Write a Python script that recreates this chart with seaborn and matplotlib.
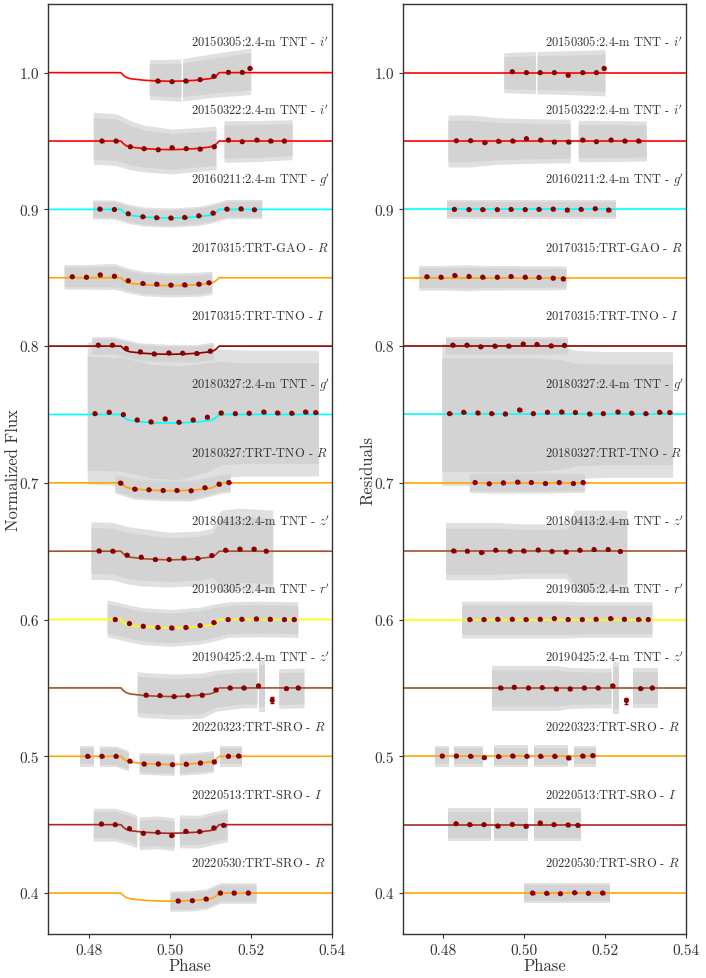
import numpy as np
import matplotlib
matplotlib.use("Agg")
import matplotlib.pyplot as plt
import seaborn as sns

nan = np.nan

# one entry per light curve, top to bottom
labels = [r"20150305:2.4-m TNT - $i'$", r"20150322:2.4-m TNT - $i'$",
          r"20160211:2.4-m TNT - $g'$", r"20170315:TRT-GAO - $R$",
          r"20170315:TRT-TNO - $I$", r"20180327:2.4-m TNT - $g'$",
          r"20180327:TRT-TNO - $R$", r"20180413:2.4-m TNT - $z'$",
          r"20190305:2.4-m TNT - $r'$", r"20190425:2.4-m TNT - $z'$",
          r"20220323:TRT-SRO - $R$", r"20220513:TRT-SRO - $I$",
          r"20220530:TRT-SRO - $R$"]
offsets = [1.0, 0.95, 0.9, 0.85, 0.8, 0.75, 0.7, 0.65, 0.6, 0.55, 0.5, 0.45, 0.4]
colors = ["red", "red", "cyan", "orange", "darkred", "cyan", "orange",
          "sienna", "yellow", "sienna", "orange", "brown", "orange"]
depths = [0.0063, 0.0063, 0.0063, 0.0058, 0.006, 0.0063, 0.0058,
          0.0063, 0.006, 0.0063, 0.006, 0.0063, 0.006]

# transit model shape (fraction of depth)
model_phase = [0.46, 0.4879, 0.4885, 0.4892, 0.4902, 0.4936, 0.4971, 0.5,
               0.5029, 0.5064, 0.5098, 0.5108, 0.5115, 0.5121, 0.55]
model_shape = [0, 0, 0.3, 0.55, 0.7, 0.88, 0.97, 1.0,
               0.97, 0.88, 0.7, 0.55, 0.3, 0, 0]

# binned points
bin_phase = [
    [0.4970, 0.5005, 0.5039, 0.5074, 0.5108, 0.5144, 0.5178, 0.5197],
    [0.4832, 0.4867, 0.4902, 0.4936, 0.4971, 0.5005, 0.5040, 0.5074, 0.5109, 0.5144, 0.5178, 0.5214, 0.5248, 0.5282],
    [0.4827, 0.4863, 0.4897, 0.4933, 0.4967, 0.5002, 0.5036, 0.5071, 0.5106, 0.5140, 0.5175, 0.5208],
    [0.4759, 0.4794, 0.4828, 0.4863, 0.4897, 0.4933, 0.4967, 0.5002, 0.5036, 0.5071, 0.5096],
    [0.4823, 0.4858, 0.4892, 0.4927, 0.4961, 0.4997, 0.5031, 0.5066, 0.5099],
    [0.4815, 0.4850, 0.4885, 0.4919, 0.4953, 0.4988, 0.5022, 0.5057, 0.5092, 0.5126, 0.5161, 0.5195, 0.5231, 0.5265, 0.5300, 0.5334, 0.5359],
    [0.4878, 0.4913, 0.4948, 0.4983, 0.5017, 0.5052, 0.5086, 0.5121, 0.5145],
    [0.4825, 0.4859, 0.4894, 0.4929, 0.4964, 0.4998, 0.5034, 0.5068, 0.5103, 0.5137, 0.5172, 0.5207, 0.5237],
    [0.4865, 0.4900, 0.4934, 0.4970, 0.5004, 0.5039, 0.5074, 0.5108, 0.5143, 0.5177, 0.5213, 0.5247, 0.5282, 0.5306],
    [0.4941, 0.4975, 0.5010, 0.5044, 0.5079, 0.5113, 0.5148, 0.5182, 0.5218, 0.5252, 0.5287, 0.5316],
    [0.4797, 0.4832, 0.4867, 0.4901, 0.4936, 0.4971, 0.5006, 0.5040, 0.5075, 0.5109, 0.5144, 0.5169],
    [0.4831, 0.4865, 0.4900, 0.4934, 0.4970, 0.5004, 0.5039, 0.5073, 0.5108, 0.5132],
    [0.5020, 0.5055, 0.5089, 0.5124, 0.5158, 0.5193],
]
bin_flux = [
    [0.9939, 0.9934, 0.9939, 0.9949, 0.9973, 1.0002, 1.0002, 1.0031],
    [0.9500, 0.9500, 0.9458, 0.9444, 0.9436, 0.9451, 0.9444, 0.9441, 0.9458, 0.9507, 0.9495, 0.9507, 0.9500, 0.9500],
    [0.9002, 0.8999, 0.8968, 0.8946, 0.8939, 0.8937, 0.8941, 0.8953, 0.8973, 0.9002, 0.9004, 0.8997],
    [0.8507, 0.8504, 0.8521, 0.8511, 0.8478, 0.8458, 0.8453, 0.8446, 0.8448, 0.8453, 0.8463],
    [0.8007, 0.8007, 0.7983, 0.7958, 0.7943, 0.7950, 0.7948, 0.7946, 0.7963],
    [0.7506, 0.7516, 0.7499, 0.7460, 0.7446, 0.7468, 0.7443, 0.7460, 0.7480, 0.7511, 0.7506, 0.7509, 0.7518, 0.7511, 0.7509, 0.7518, 0.7514],
    [0.6998, 0.6954, 0.6949, 0.6944, 0.6944, 0.6942, 0.6964, 0.6990, 0.7002],
    [0.6502, 0.6500, 0.6471, 0.6456, 0.6439, 0.6439, 0.6449, 0.6447, 0.6468, 0.6507, 0.6515, 0.6515, 0.6500],
    [0.6000, 0.5971, 0.5951, 0.5942, 0.5939, 0.5942, 0.5956, 0.5978, 0.6000, 0.6002, 0.6005, 0.6002, 0.6000, 0.6000],
    [0.5447, 0.5444, 0.5437, 0.5444, 0.5447, 0.5485, 0.5500, 0.5500, 0.5515, 0.5410, 0.5495, 0.5500],
    [0.5000, 0.5000, 0.5000, 0.4964, 0.4944, 0.4944, 0.4939, 0.4942, 0.4951, 0.4959, 0.5000, 0.5002],
    [0.4505, 0.4500, 0.4471, 0.4437, 0.4444, 0.4420, 0.4451, 0.4449, 0.4476, 0.4495],
    [0.3942, 0.3944, 0.3956, 0.4000, 0.4000, 0.4000],
]
bin_resid = [
    [1.0007, 1.0000, 1.0000, 1.0000, 0.9981, 1.0000, 1.0000, 1.0031],
    [0.9502, 0.9502, 0.9488, 0.9498, 0.9500, 0.9517, 0.9507, 0.9493, 0.9493, 0.9507, 0.9495, 0.9507, 0.9500, 0.9500],
    [0.9000, 0.8998, 0.8998, 0.8998, 0.9000, 0.8998, 0.9000, 0.9002, 0.8995, 0.9000, 0.9005, 0.8995],
    [0.8507, 0.8504, 0.8516, 0.8509, 0.8504, 0.8504, 0.8509, 0.8504, 0.8502, 0.8497, 0.8492],
    [0.8007, 0.8007, 0.7995, 0.8000, 0.8000, 0.8015, 0.8012, 0.8002, 0.8005],
    [0.7506, 0.7516, 0.7511, 0.7506, 0.7504, 0.7533, 0.7506, 0.7516, 0.7518, 0.7514, 0.7504, 0.7506, 0.7518, 0.7509, 0.7506, 0.7516, 0.7514],
    [0.7002, 0.6993, 0.7000, 0.7005, 0.7002, 0.6995, 0.7002, 0.6995, 0.7002],
    [0.6502, 0.6500, 0.6490, 0.6507, 0.6500, 0.6502, 0.6509, 0.6498, 0.6495, 0.6507, 0.6512, 0.6512, 0.6498],
    [0.6000, 0.6000, 0.6002, 0.6002, 0.6000, 0.6002, 0.6007, 0.6000, 0.6000, 0.6002, 0.6007, 0.6002, 0.6000, 0.6000],
    [0.5500, 0.5505, 0.5500, 0.5502, 0.5493, 0.5493, 0.5500, 0.5500, 0.5515, 0.5408, 0.5495, 0.5500],
    [0.5002, 0.5002, 0.5000, 0.4990, 0.4998, 0.5002, 0.5000, 0.5000, 0.5000, 0.4988, 0.5002, 0.5005],
    [0.4507, 0.4500, 0.4500, 0.4490, 0.4502, 0.4488, 0.4512, 0.4500, 0.4498, 0.4495],
    [0.4000, 0.3998, 0.3995, 0.4002, 0.3998, 0.4000],
]
bin_err = 0.0005
odd_point = (9, 9, 0.0022)   # curve, index, error of the deviant bin

# spread of the unbinned data (gray), nan marks a gap
gray_phase = [
    [0.4949, 0.5027, nan, 0.5031, 0.5108, 0.5199],
    [0.4811, 0.4867, 0.4902, 0.4936, 0.5005, 0.5074, 0.5113, nan, 0.5133, 0.5214, 0.5301],
    [0.4809, 0.4863, 0.4897, 0.4933, 0.5002, 0.5071, 0.5106, 0.5140, 0.5226],
    [0.4739, 0.4794, 0.4863, 0.4897, 0.4933, 0.5002, 0.5071, 0.5103],
    [0.4807, 0.4858, 0.4892, 0.4927, 0.4997, 0.5066, 0.5107],
    [0.4796, 0.4885, 0.4953, 0.5022, 0.5092, 0.5126, 0.5195, 0.5265, 0.5366],
    [0.4864, 0.4913, 0.4983, 0.5052, 0.5121, 0.5148],
    [0.4805, 0.4859, 0.4894, 0.4929, 0.4998, 0.5068, 0.5103, 0.5125, 0.5172, 0.5253],
    [0.4845, 0.4900, 0.4934, 0.5004, 0.5074, 0.5108, 0.5143, 0.5213, 0.5315],
    [0.4919, 0.4941, 0.5010, 0.5079, 0.5113, 0.5182, 0.5214, nan, 0.5219, 0.5234, nan, 0.5268, 0.5330],
    [0.4778, 0.4813, nan, 0.4826, 0.4867, 0.4897, nan, 0.4924, 0.4971, 0.5010, nan,
     0.5023, 0.5075, 0.5107, nan, 0.5123, 0.5177],
    [0.4811, 0.4865, 0.4900, 0.4918, nan, 0.4924, 0.4970, 0.5010, nan, 0.5023, 0.5073, 0.5108, 0.5141],
    [0.5000, 0.5020, 0.5055, 0.5089, 0.5124, 0.5158, 0.5212],
]
gray_mid = [
    [0.9950, 0.9945, nan, 0.9948, 0.9980, 1.0010],
    [0.9520, 0.9510, 0.9470, 0.9445, 0.9423, 0.9440, 0.9450, nan, 0.9496, 0.9500, 0.9510],
    [0.9000, 0.8999, 0.8968, 0.8948, 0.8940, 0.8953, 0.8973, 0.9003, 0.9003],
    [0.8507, 0.8506, 0.8510, 0.8480, 0.8458, 0.8447, 0.8453, 0.8462],
    [0.8003, 0.8005, 0.7983, 0.7958, 0.7948, 0.7946, 0.7965],
    [0.7510, 0.7500, 0.7450, 0.7440, 0.7480, 0.7510, 0.7510, 0.7510, 0.7510],
    [0.6995, 0.6955, 0.6944, 0.6942, 0.6990, 0.7002],
    [0.6505, 0.6500, 0.6471, 0.6456, 0.6439, 0.6447, 0.6468, 0.6500, 0.6515, 0.6500],
    [0.6010, 0.5971, 0.5951, 0.5939, 0.5956, 0.5978, 0.6000, 0.6005, 0.6000],
    [0.5455, 0.5447, 0.5437, 0.5444, 0.5480, 0.5500, 0.5500, nan, 0.5515, 0.5515, nan, 0.5495, 0.5500],
    [0.5000, 0.5000, nan, 0.5000, 0.5000, 0.4968, nan, 0.4948, 0.4944, 0.4940, nan,
     0.4942, 0.4951, 0.4962, nan, 0.5000, 0.5000],
    [0.4500, 0.4500, 0.4471, 0.4450, nan, 0.4437, 0.4444, 0.4430, nan, 0.4451, 0.4449, 0.4476, 0.4495],
    [0.3940, 0.3942, 0.3944, 0.3956, 0.4000, 0.4000, 0.4000],
]
gray_half = [
    [0.0145, 0.0155, nan, 0.0155, 0.0160, 0.0170],
    [0.019, 0.019, 0.018, 0.017, 0.0164, 0.016, 0.016, nan, 0.0152, 0.015, 0.0146],
    [0.007, 0.007, 0.007, 0.007, 0.007, 0.007, 0.007, 0.007, 0.007],
    [0.009, 0.009, 0.0095, 0.009, 0.009, 0.0088, 0.0088, 0.0085],
    [0.0065, 0.0065, 0.0065, 0.0065, 0.0065, 0.0065, 0.0065],
    [0.052, 0.052, 0.052, 0.052, 0.050, 0.047, 0.046, 0.046, 0.046],
    [0.007, 0.0075, 0.0075, 0.0075, 0.007, 0.007],
    [0.021, 0.021, 0.021, 0.021, 0.020, 0.020, 0.020, 0.030, 0.030, 0.030],
    [0.0135, 0.0135, 0.0135, 0.0135, 0.0135, 0.0135, 0.013, 0.013, 0.013],
    [0.0165, 0.0165, 0.0165, 0.0165, 0.015, 0.0145, 0.0145, nan, 0.019, 0.019, nan, 0.0145, 0.0145],
    [0.0075, 0.0075, nan, 0.0075, 0.0075, 0.0075, nan, 0.008, 0.008, 0.008, nan,
     0.008, 0.008, 0.008, nan, 0.0075, 0.0075],
    [0.012, 0.012, 0.012, 0.012, nan, 0.012, 0.012, 0.012, nan, 0.012, 0.012, 0.012, 0.012],
    [0.0075, 0.0075, 0.0075, 0.0075, 0.0075, 0.0075, 0.0075],
]


def split_nan(x, *ys):
    x = np.asarray(x, dtype=float)
    ys = [np.asarray(y, dtype=float) for y in ys]
    cuts = np.where(np.isnan(x))[0]
    start = 0
    for c in list(cuts) + [len(x)]:
        if c > start:
            yield (x[start:c],) + tuple(y[start:c] for y in ys)
        start = c + 1


sns.set_theme(style="ticks", context="notebook")
plt.rcParams["font.family"] = ["serif"]
plt.rcParams["font.serif"] = ["cmr10", "DejaVu Serif"]
plt.rcParams["mathtext.fontset"] = "cm"
plt.rcParams["axes.formatter.use_mathtext"] = True
plt.rcParams["axes.edgecolor"] = ".2"
plt.rcParams["axes.linewidth"] = 1.0

fig = plt.figure(figsize=(7.06, 9.79), dpi=100)
ax_l = fig.add_axes([0.0684, 0.0449, 0.4023, 0.9497])
ax_r = fig.add_axes([0.5708, 0.0449, 0.4013, 0.9497])

for i, off in enumerate(offsets):
    # raw data spread: soft outer edge, solid core
    for gx, gm, gh in split_nan(gray_phase[i], gray_mid[i], gray_half[i]):
        for frac, alpha in ((1.0, 0.7), (0.8, 1.0)):
            ax_l.fill_between(gx, gm - frac * gh, gm + frac * gh, color="lightgray",
                              alpha=alpha, lw=0, zorder=1)
            ax_r.fill_between(gx, off - frac * gh, off + frac * gh, color="lightgray",
                              alpha=alpha, lw=0, zorder=1)

    # model / zero line
    model = off - depths[i] * np.array(model_shape)
    sns.lineplot(x=model_phase, y=model, ax=ax_l, color=colors[i], lw=1.2,
                 zorder=2, sort=False)
    ax_r.axhline(off, color=colors[i], lw=1.2, zorder=2)

    # binned points
    err = np.full(len(bin_phase[i]), bin_err)
    if i == odd_point[0]:
        err[odd_point[1]] = odd_point[2]
    for ax, yy in ((ax_l, bin_flux[i]), (ax_r, bin_resid[i])):
        ax.errorbar(bin_phase[i], yy, yerr=err, fmt="none", ecolor="darkred",
                    elinewidth=1, capsize=1.5, zorder=3)
        sns.scatterplot(x=bin_phase[i], y=yy, ax=ax, color="darkred", s=14,
                        marker="o", edgecolor="none", zorder=4)

    for ax in (ax_l, ax_r):
        ax.text(0.5052, off + 0.0195, labels[i], fontsize=9.0, color=".2",
                ha="left", va="baseline", zorder=5)

for ax, ylab in ((ax_l, "Normalized Flux"), (ax_r, "Residuals")):
    ax.set_xlim(0.47, 0.54)
    ax.set_ylim(0.37, 1.05)
    ax.set_xticks([0.48, 0.50, 0.52, 0.54])
    ax.set_xticklabels(["0.48", "0.50", "0.52", "0.54"])
    ax.set_yticks([0.4, 0.5, 0.6, 0.7, 0.8, 0.9, 1.0])
    ax.set_yticklabels(["0.4", "0.5", "0.6", "0.7", "0.8", "0.9", "1.0"])
    ax.tick_params(labelsize=11, length=3, width=0.8, color=".2", labelcolor=".2")
    ax.set_xlabel("Phase", fontsize=12, color=".2", labelpad=1)
    ax.set_ylabel(ylab, fontsize=12, color=".2", labelpad=-1)
    for s in ax.spines.values():
        s.set_visible(True)

fig.savefig("out.png", dpi=100)
